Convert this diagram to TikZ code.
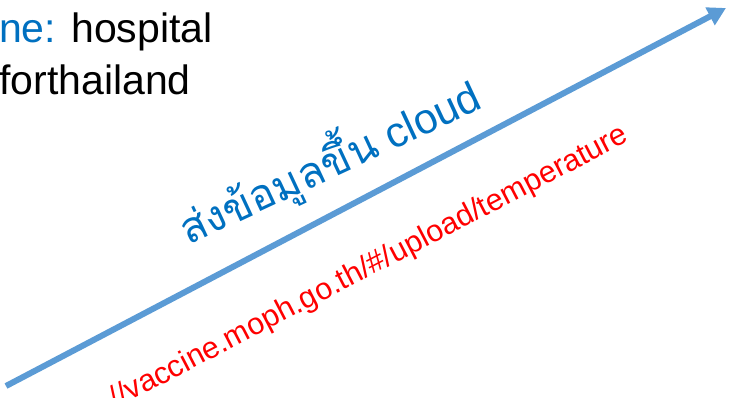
\documentclass[tikz,border=0pt]{standalone}
\usepackage{fontspec}
\setmainfont{Liberation Sans}
\newfontfamily\thaifont[Script=Thai]{Loma}
\usepackage{tikz}
\usetikzlibrary{arrows.meta}

\definecolor{titleblue}{RGB}{0,112,192}
\definecolor{arrowblue}{RGB}{91,155,213}
\definecolor{linkred}{RGB}{255,0,0}

\tikzset{
	bigtext/.style={font=\fontsize{41}{49}\selectfont, inner sep=0pt},
	sendtext/.style={font=\fontsize{42.5}{51}\selectfont, inner sep=0pt, text=titleblue},
	linktext/.style={font=\fontsize{30.5}{37}\selectfont, inner sep=0pt, text=linkred},
}

\begin{document}
\begin{tikzpicture}[x=1pt, y=1pt]
		\useasboundingbox (0, 0) rectangle (730, 397);
		\clip (0, 0) rectangle (730, 397);
		% Login text, top left:
		\node[bigtext, anchor=base west](user) at (-1, 354){\textcolor{titleblue}{ne:} hospital};
		\node[bigtext, anchor=base west](pass) at (-1, 302){forthailand};
		% Upload arrow:
		\coordinate (start) at (6, 11);
		\coordinate (cloud) at (726, 389);
		\draw[arrowblue, line width=6pt, -{Triangle[length=18pt, width=19pt]}] (start) -- (cloud);
		% Labels along the arrow:
		\node[sendtext, anchor=base west, rotate=25](send) at (188, 151){{\thaifont ส่งข้อมูลขึ้น} cloud};
		\node[linktext, anchor=base east, rotate=27.5](url) at (630, 256){//vaccine.moph.go.th/\#/upload/temperature};
	\end{tikzpicture}
\end{document}
